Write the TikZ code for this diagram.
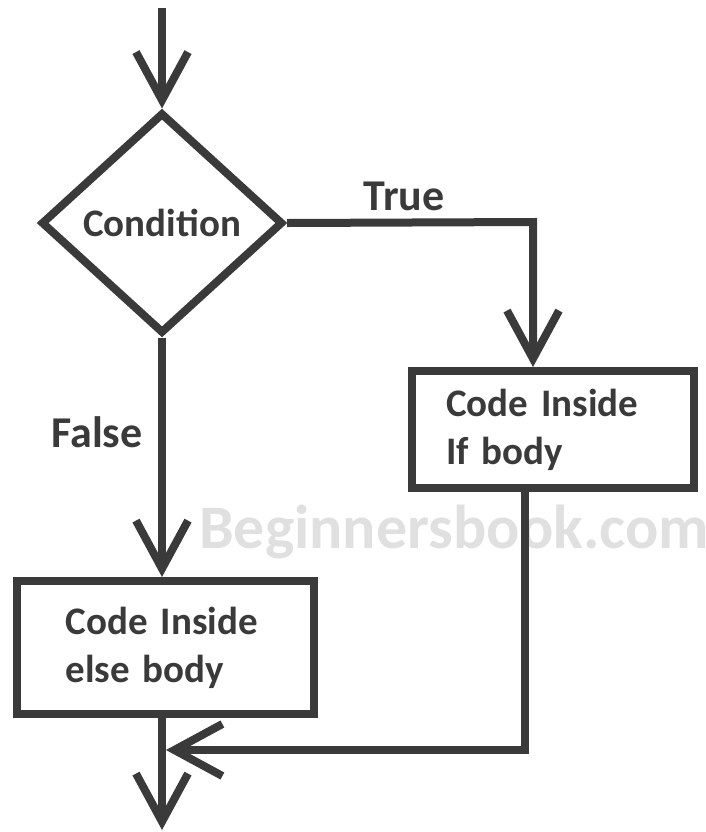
\documentclass[tikz,border=0pt]{standalone}
\usepackage{fontspec}
\setmainfont{Carlito}
\usetikzlibrary{arrows.meta,shapes.geometric}
\definecolor{ink}{HTML}{3A3A3A}
\definecolor{wmgray}{HTML}{E0E0E0}
\begin{document}
\begin{tikzpicture}[x=0.5pt, y=-0.5pt, >={Straight Barb[length=24pt,width=26pt]},
		line/.style={draw=ink, line width=4pt, ->},
		txt/.style={font=\bfseries\fontsize{19.5}{24}\selectfont, text=ink},
		lbl/.style={font=\bfseries\fontsize{22}{24}\selectfont, text=ink},
		block/.style={txt, draw=ink, line width=4pt, rectangle, align=left, inner sep=0pt}]
		\useasboundingbox (0,0) rectangle (706,832);
		% watermark behind the lines
		\node[font=\bfseries\fontsize{31}{31}\selectfont, text=wmgray, anchor=base west] (wm) at (192,548) {Beginnersbook.com};
		\node[txt, diamond, draw=ink, line width=4pt, minimum width=121pt, minimum height=110.5pt, inner sep=0pt] (cond) at (162,223) {Condition};
		\node[block, minimum width=141pt, minimum height=58.5pt, text width=107pt] (ifbox) at (553,429.5) {Code Inside\\If body};
		\node[block, minimum width=148.5pt, minimum height=66.5pt, text width=100pt] (elsebox) at (165.5,647.5) {Code Inside\\else body};
		\coordinate (in) at (162,8);
		\coordinate (out) at (162,830);
		\coordinate (tc) at (533,222);
		\coordinate (rc) at (525,750);
		\coordinate (join) at (166,750);
		\draw[line] (in) -- (cond.north);
		\draw[line] (cond.east) -- (tc) -- (tc |- ifbox.north);
		\draw[line] (cond.south) -- (cond.south |- elsebox.north);
		\draw[line] (cond.south |- elsebox.south) -- (out);
		\draw[line] (rc |- ifbox.south) -- (rc) -- (join);
		\node[lbl, anchor=base] (truelbl) at (404,210) {True};
		\node[lbl, anchor=base] (falselbl) at (97,447) {False};
	\end{tikzpicture}
\end{document}
